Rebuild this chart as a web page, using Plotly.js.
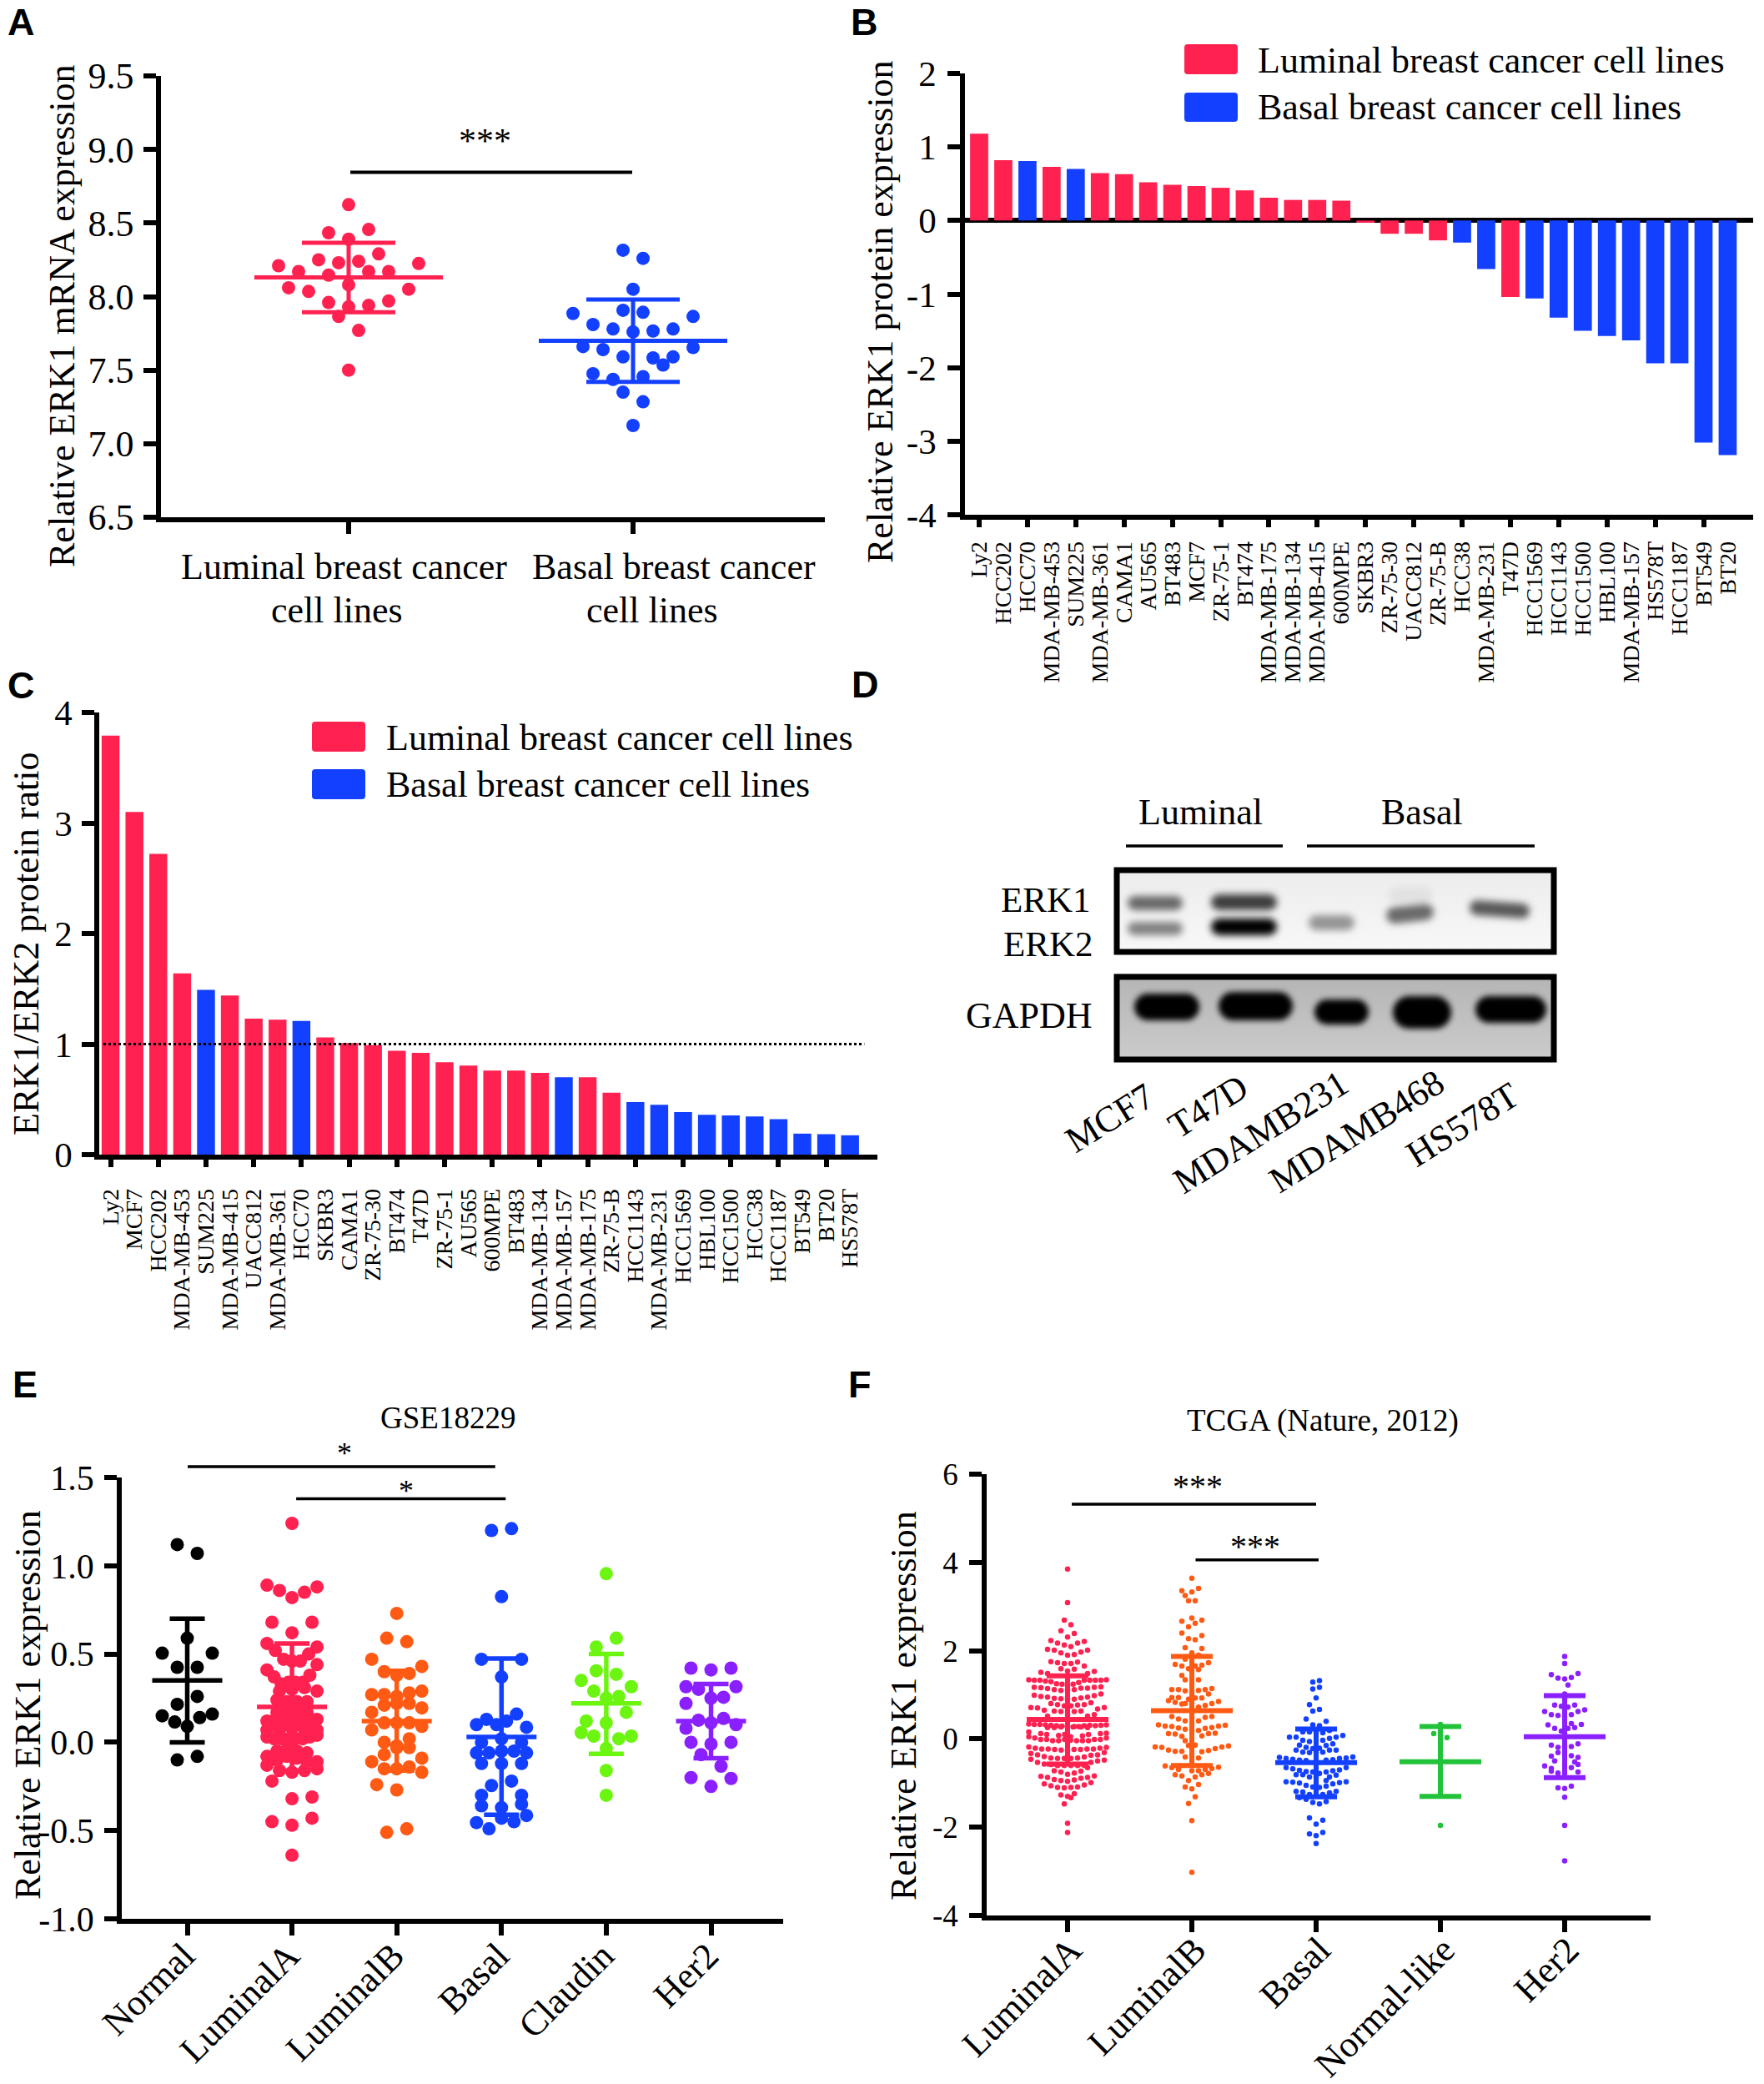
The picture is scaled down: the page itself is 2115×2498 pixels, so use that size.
<!DOCTYPE html>
<html><head><meta charset="utf-8">
<script src="https://cdn.plot.ly/plotly-3.0.1.min.js"></script>
<style>html,body{margin:0;padding:0;background:#fff}</style></head>
<body><div id="chart" style="width:2115px;height:2498px"></div>
<script>
// ---------- DATA ----------
const legendLabels = ['Luminal breast cancer cell lines','Basal breast cancer cell lines'];

// Panel A: rows of a swarm, left to right (null = empty slot in the row)
const A_categories = ['Luminal breast cancer\ncell lines','Basal breast cancer\ncell lines'];
const A_yticks = [6.5,7,7.5,8,8.5,9,9.5];
const A_luminal = [[8.625],[8.434,8.39,8.456],[8.21,8.17,8.25,8.23,8.24,8.29,null,8.225],
  [8.06,8.035,8.146,8.08,8.17,8.17,8.05],[null,7.96,7.93,7.94,7.97],[7.865,null],[null,7.77],[7.5]];
const A_basal = [[8.315,8.26],[8.05],[7.907,7.893],[7.885,7.81,7.78,7.76,7.766,7.78,7.865],
  [7.66,7.64,7.59,null,7.535,null],[null,null,null,null,7.583,7.59,7.654],
  [7.476,7.437,null,null,null],[null,7.456],[7.35,null],[null,7.285],[7.124]];
const A_mean = [8.13,7.70], A_upper = [8.366,7.98], A_lower = [7.893,7.42];
const A_sigX = [0.006,0.997], A_sigY = [8.845,8.845];

// Panel B
const B_lines = ['Ly2','HCC202','HCC70','MDA-MB-453','SUM225','MDA-MB-361','CAMA1','AU565','BT483','MCF7','ZR-75-1','BT474','MDA-MB-175','MDA-MB-134','MDA-MB-415','600MPE','SKBR3','ZR-75-30','UACC812','ZR-75-B','HCC38','MDA-MB-231','T47D','HCC1569','HCC1143','HCC1500','HBL100','MDA-MB-157','HS578T','HCC1187','BT549','BT20'];
const B_values = [1.18,0.82,0.81,0.73,0.70,0.645,0.63,0.52,0.485,0.47,0.445,0.41,0.31,0.28,0.28,0.27,-0.03,-0.18,-0.18,-0.27,-0.30,-0.66,-1.04,-1.06,-1.32,-1.50,-1.57,-1.63,-1.94,-1.94,-3.02,-3.19];
const B_basal = ['HCC70','SUM225','HCC38','MDA-MB-231','HCC1569','HCC1143','HCC1500','HBL100','MDA-MB-157','HS578T','HCC1187','BT549','BT20'];
const B_yticks = [-4,-3,-2,-1,0,1,2];

// Panel C
const C_lines = ['Ly2','MCF7','HCC202','MDA-MB-453','SUM225','MDA-MB-415','UACC812','MDA-MB-361','HCC70','SKBR3','CAMA1','ZR-75-30','BT474','T47D','ZR-75-1','AU565','600MPE','BT483','MDA-MB-134','MDA-MB-157','MDA-MB-175','ZR-75-B','HCC1143','MDA-MB-231','HCC1569','HBL100','HCC1500','HCC38','HCC1187','BT549','BT20','HS578T'];
const C_values = [3.79,3.10,2.72,1.64,1.49,1.44,1.23,1.22,1.21,1.06,1.01,0.99,0.94,0.92,0.835,0.805,0.76,0.76,0.74,0.70,0.70,0.56,0.475,0.45,0.385,0.36,0.355,0.345,0.32,0.19,0.185,0.175];
const C_basal = ['SUM225','HCC70','MDA-MB-157','HCC1143','MDA-MB-231','HCC1569','HBL100','HCC1500','HCC38','HCC1187','BT549','BT20','HS578T'];
const C_yticks = [0,1,2,3,4];
const C_refX = [-0.3,31.6], C_refY = [1,1];

// Panel E
const E_categories = ['Normal','LuminalA','LuminalB','Basal','Claudin','Her2'];
const E_yticks = [-1,-0.5,0,0.5,1,1.5];
const E_mean = [0.35,0.20,0.12,0.03,0.22,0.12];
const E_upper = [0.70,0.56,0.405,0.475,0.50,0.33];
const E_lower = [0,-0.16,-0.16,-0.41,-0.065,-0.09];
const E_normal = [[1.12,1.07],[0.59],[0.505,null,null,null,0.505],[0.425,0.425],[null,0.26],[0.215,null],
  [0.15,0.115,0.09,0.14,0.16],[-0.10,-0.08]];
const E_luminalA = [[1.24],[0.89,0.86,0.82,0.85,0.88],[0.68,0.62,0.68],[0.56,0.52,0.47,0.46,0.46,0.50,0.54],
  [0.41,0.37,0.33,0.34,0.34,0.34,0.38,0.44],[null,0.29,0.30,0.31,0.29],[null,0.24,0.23,0.23,0.23,null],
  [null,0.17,0.18,0.18,0.17,null],[0.12,0.12,0.12,0.12,0.10,0.12,0.12,0.12,0.13],[0.07,0.07,0.08,0.07,0.07],
  [0.03,0.02,0.02,0.02,0.02,0.02,0.03,0.04],[null,-0.05,-0.04,-0.05,-0.06,null],[-0.08,-0.10,-0.08,-0.09,-0.11,-0.11],
  [-0.13,-0.16,-0.17,-0.16,-0.15],[-0.22,null,null],[null,-0.32,-0.31],[-0.45,-0.47,-0.43],[-0.64]];
const E_luminalB = [[0.73],[0.59,0.57],[0.47,0.40,0.38,0.39,0.43],[0.27,0.27,0.26,0.28,0.29],[0.17,0.21,0.22,0.22,0.195],
  [0.07,0.11,0.11,0.11,0.09],[null,0,-0.02,0.02,null],[-0.11,-0.07,-0.03,-0.03,-0.09],[null,-0.15,-0.15,-0.14,-0.17],
  [-0.24,-0.27,null],[-0.51,-0.49]];
const E_basal = [[1.20,1.21],[0.825],[0.47,null,0.47],[0.37],[0.10,0.13,0.10,0.12,0.16,0.085],[0,0.02,0],
  [-0.06,-0.06,-0.05,-0.05,-0.06],[-0.12,-0.12,-0.12],[-0.245,-0.22],[-0.30,null,-0.30],[-0.36,-0.37,-0.35],
  [-0.455,-0.49,-0.43,-0.45,-0.415]];
const E_claudin = [[0.955],[0.54,0.59],[0.405,0.385],[0.35,0.29,0.25,0.26,0.315],[0.12,0.11,0.17],
  [0.055,0.035,null,0.02,0.035],[-0.035],[-0.16],[-0.30]];
const E_her2 = [[0.42,0.41,0.42],[0.315,0.30,0.25,0.255,0.315],[0.22,null,null,null,null],[0.08,0.125,0.11,0.135,0.10],
  [0,-0.01,0],[-0.07,-0.135],[-0.2,-0.25,-0.205]];
const E_sig1X = [0.004,2.94], E_sig1Y = [1.562,1.562];
const E_sig2X = [1.04,3.04], E_sig2Y = [1.379,1.379];

// Panel F
const F_categories = ['LuminalA','LuminalB','Basal','Normal-like','Her2'];
const F_yticks = [-4,-2,0,2,4,6];
const F_mean = [0.44,0.64,-0.535,-0.515,0.05];
const F_upper = [1.43,1.87,0.225,0.28,0.98];
const F_lower = [-0.57,-0.60,-1.31,-1.30,-0.875];
const F_luminalA = [[3.85],[3.09],[2.69,2.59],[2.45,2.31,2.39],[2.23,2.17,2.13,2.09,2.17,2.21],
  [2.03,2.01,1.95,1.90,1.91,1.97,2.01],[1.75,1.73,1.71,1.71,1.74,1.65],[1.51,1.48,null,1.59,1.54,1.58,null,1.48,1.53],
  [1.34,1.33,1.33,1.31,1.30,1.25,1.24,1.20,1.24,1.28,1.33,1.33,1.33,1.33,1.34],
  [1.17,1.16,1.14,1.12,1.10,1.12,1.12,1.15,1.15,1.17,1.18],
  [0.99,0.96,0.95,0.92,0.91,0.90,0.90,0.93,0.95,0.98,1.02],
  [0.71,0.70,0.65,0.80,0.78,0.75,0.75,0.77,0.78,0.82,0.68,0.71],
  [null,0.52,0.63,0.62,0.55,0.62,0.63,0.52,0.55],
  [0.34,0.33,0.33,0.32,0.31,0.30,0.29,0.28,0.27,0.28,0.30,0.31,0.30,0.31,0.32],
  [0.26,0.26,0.27,0.28,0.28,0.27,0.26],
  [0.16,null,0.12,0.10,null,0.08,0.10,0.05,null,0.07,0.10,null,0.12,0.13],
  [0.05,0.02,-0.01,-0.01,-0.04,-0.04,-0.01,-0.03,-0.04,-0.04,-0.04,-0.01,-0.01,0.02],
  [-0.18,-0.21,-0.23,-0.23,-0.24,-0.25,-0.26,-0.24,-0.24,-0.23,-0.23,-0.21,-0.19],
  [-0.33,-0.36,-0.40,-0.43,-0.44,-0.44,-0.44,-0.43,-0.41,-0.37,-0.36,-0.31],
  [-0.46,-0.53,-0.57,-0.58,-0.6,-0.6,-0.6,-0.6,-0.6,-0.53,-0.50,-0.48],
  [null,-0.72,-0.75,-0.80,-0.77,-0.73,-0.65],
  [-0.85,-0.87,-0.92,-0.94,-0.96,-0.93,-0.89,-0.87,-0.84],
  [-1.02,-1.06,-1.10,-1.11,-1.10,-1.09,-1.04,-0.99],
  [-1.27,-1.30,-1.24],[null,-1.33],[-1.47,null],[-1.91],[-2.12]];
const F_luminalB = [[3.64],[3.25,3.33,3.41],[3.36,null,null,null],[3.13,3.13],[2.74],[2.67,2.54,2.62,2.69],[2.40,2.27,2.25,2.34],
  [2.07,1.95,null],[null,null,null,2.05],[1.81,null,1.90],[1.69,1.65,1.59,1.65,1.67,1.73],[null,null,1.57],[1.44,null,null,null],
  [1.34,null,1.34],[1.12,1.12,1.09,1.05,1.10,1.12,1.14],[0.87,0.83,0.79,0.90,0.93,0.93,1.02,null],
  [null,0.94,0.94,0.8,0.8,0.72,0.76,0.80,0.85],[0.51,0.45,0.41,0.48,0.41,0.49,0.51],
  [0.32,0.29,0.28,0.25,0.22,0.2,0.19,0.24,0.26,0.29,0.31],[0.12,0.11,0.06,-0.15,-0.14,0.07,0.12,0.13],[-0.04,null,null],
  [-0.18,-0.19,-0.25,-0.28,-0.28,null,null,-0.29,-0.26,-0.22,-0.18,-0.16],[-0.41,null,-0.43],
  [-0.61,-0.65,-0.69,null,-0.72,-0.72,-0.69,-0.67,-0.64],[-0.81,-0.84,-0.94,-0.86,-0.81,-0.78],
  [-1.09,-1.13,-1.03],[null,-1.31],[-1.46,null],[-1.85],[-3.02]];
const F_basal = [[1.29,1.32],[1.13,1.17],[0.93],[0.78,null,null],[0.63,0.67],[0.45,null,null,0.40],[0.32,0.30],
  [0.16,0.16,0.15,0.14,0.19],[0.04,0.04,-0.03,-0.06,null,-0.03,0.01,0.04,0.08],[-0.14,-0.19,-0.22,-0.21,-0.15,-0.11],
  [-0.25,-0.30,-0.31,-0.3,-0.30,-0.25,-0.25],[-0.42,-0.44,-0.46,-0.48,-0.49,null,null,-0.48,-0.47,-0.44,-0.43,-0.41],
  [-0.65,-0.68,-0.71,-0.74,-0.75,-0.78,-0.75,-0.72,-0.70,-0.65],[-0.81,-0.81,-0.86,-0.86,null,-0.86,-0.82],
  [-0.97,-0.98,-1.0,-1.05,-1.09,-1.10,-1.07,-1.02,-0.99,-0.97],[null,null,null,-0.94],
  [-1.19,-1.20,-1.26,-1.28,-1.26,-1.22,-1.19],[-1.33,-1.37,-1.44,-1.47,-1.42,-1.29],
  [-1.79,null,-1.84],[-1.93],[-2.15,-2.19,-2.12],[-2.37]];
const F_normal = [[0.33],[0.12,null,0.03],[-1.96]];
const F_her2 = [[1.87],[1.71],[1.46,1.38,1.36,1.39,1.48],[null,1.22],[1.02],[0.90],[0.77,0.74,0.72,0.77],
  [0.62,0.55,0.53,0.50,0.55,0.62,0.66],[null,null,0.35],[0.32,0.24,0.18,0.24,0.26,0.33],[0.08],[-0.14,-0.19,-0.17,-0.17,-0.11],
  [-0.39,-0.31,null,-0.38,-0.42],[-0.50,null,null,-0.52],[-0.61,-0.67,null,null,-0.65,-0.58,null],[-0.73,-0.77,null,null,-0.75],
  [-1.11,-1.12,-1.07],[-1.32],[-1.96],[-2.76]];
const F_sig1X = [0.034,2.0], F_sig1Y = [5.32,5.32];
const F_sig2X = [1.03,2.02], F_sig2Y = [4.06,4.06];

// Panel D labels
const D_lines = ['MCF7','T47D','MDAMB231','MDAMB468','HS578T'];

// ---------- STYLE ----------
const W=2115,H=2498, SERIF='"Liberation Serif","Times New Roman",serif', SANS='"Liberation Sans",Arial,sans-serif';
const RED='#FF2150',BLUE='#1340FF',ORANGE='#FF5A14',LIME='#6CF510',GREEN='#22C23A',PURPLE='#8A20FF',BLACK='#000000';
const LW=5.5;
const X=p=>p/W, Y=p=>1-p/H;
const fmt1=v=>v.toFixed(1), fmt0=v=>String(v);

function swarm(rows,center,pitch,step,maxHalf){
  const x=[],y=[];
  rows.forEach(r=>{const n=r.length;let s=step;if(n>1&&(n-1)*s/2>maxHalf)s=2*maxHalf/(n-1);
    r.forEach((v,i)=>{if(v===null)return;x.push(center+(i-(n-1)/2)*s/pitch);y.push(v);});});
  return {x,y};
}
const traces=[];
function addSwarm(rows,c,pitch,step,maxHalf,color,size,ax,ay){
  const s=swarm(rows,c,pitch,step,maxHalf);
  traces.push({type:'scatter',mode:'markers',x:s.x,y:s.y,xaxis:ax,yaxis:ay,marker:{color,size,line:{width:0}},hoverinfo:'y'});
}
function addStat(c,mean,up,lo,color,halfW,cap,thick,ax,ay){
  traces.push({type:'scatter',mode:'markers',x:[c],y:[mean],xaxis:ax,yaxis:ay,cliponaxis:false,hoverinfo:'y',
    marker:{symbol:'line-ew',size:halfW*2/1.4,color,line:{color,width:thick}},
    error_y:{type:'data',symmetric:false,array:[up-mean],arrayminus:[mean-lo],width:cap,thickness:thick,color}});
}
function addLine(x,y,ax,ay,width,dash){
  traces.push({type:'scatter',mode:'lines',x,y,xaxis:ax,yaxis:ay,cliponaxis:false,hoverinfo:'skip',line:{color:BLACK,width,dash:dash||'solid'}});
}
function addBars(names,vals,basal,ax,ay){
  traces.push({type:'bar',x:names.map((_,i)=>i),y:vals,xaxis:ax,yaxis:ay,width:0.75,hovertext:names,
    marker:{color:names.map(n=>basal.includes(n)?BLUE:RED),line:{width:0}}});
}
function yAxis(xAnchor,top,bottom,range,ticks,f,standoff,size,extra){
  return Object.assign({domain:[Y(bottom),Y(top)],range,anchor:xAnchor,tickmode:'array',tickvals:ticks,ticktext:ticks.map(f),
    showgrid:false,zeroline:false,showline:true,linecolor:BLACK,linewidth:LW,ticks:'outside',ticklen:15,tickwidth:LW,tickcolor:BLACK,
    ticklabelstandoff:standoff,tickfont:{family:SERIF,size,color:BLACK}},extra||{});
}
function xAxis(yAnchor,left,right,pos0,pitch,extra){
  return Object.assign({domain:[X(left),X(right)],range:[(left-pos0)/pitch,(right-pos0)/pitch],anchor:yAnchor,
    showgrid:false,zeroline:false,showline:true,linecolor:BLACK,linewidth:LW,ticks:'outside',ticklen:14,tickwidth:LW,tickcolor:BLACK,
    tickfont:{family:SERIF,size:42,color:BLACK}},extra||{});
}
const idx=a=>a.map((_,i)=>i);

// Panel A
const pA=341;
addSwarm(A_luminal,0,pA,24,90,RED,16,'x','y');
addSwarm(A_basal,1,pA,24,90,BLUE,16,'x','y');
[RED,BLUE].forEach((c,i)=>addStat(i,A_mean[i],A_upper[i],A_lower[i],c,113,56,5,'x','y'));
addLine(A_sigX,A_sigY,'x','y',4);
// Panel B
const pB=28.95;
addBars(B_lines,B_values,B_basal,'x2','y2');
const oddB=idx(B_lines).filter(i=>i%2===0);
traces.push({type:'scatter',mode:'markers',x:oddB,y:oddB.map(()=>0),xaxis:'x6',yaxis:'y2',marker:{opacity:0},hoverinfo:'skip'});
// Panel C
const pC=28.6;
addBars(C_lines,C_values,C_basal,'x3','y3');
addLine(C_refX,C_refY,'x3','y3',3,'dot');
const oddC=idx(C_lines).filter(i=>i%2===0);
traces.push({type:'scatter',mode:'markers',x:oddC,y:oddC.map(()=>0),xaxis:'x7',yaxis:'y3',marker:{opacity:0},hoverinfo:'skip'});
// Panel E
const pE=125.6;
[E_normal,E_luminalA,E_luminalB,E_basal,E_claudin,E_her2].forEach((r,i)=>addSwarm(r,i,pE,24,30,[BLACK,RED,ORANGE,BLUE,LIME,PURPLE][i],16,'x4','y4'));
[BLACK,RED,ORANGE,BLUE,LIME,PURPLE].forEach((c,i)=>addStat(i,E_mean[i],E_upper[i],E_lower[i],c,42,21,5.5,'x4','y4'));
addLine(E_sig2X,E_sig2Y,'x4','y4',3.5);
// Panel F
const pF=149;
[F_luminalA,F_luminalB,F_basal,F_normal,F_her2].forEach((r,i)=>addSwarm(r,i,pF,8,46.5,[RED,ORANGE,BLUE,GREEN,PURPLE][i],6.5,'x5','y5'));
[RED,ORANGE,BLUE,GREEN,PURPLE].forEach((c,i)=>addStat(i,F_mean[i],F_upper[i],F_lower[i],c,49,25,6,'x5','y5'));
addLine(F_sig1X,F_sig1Y,'x5','y5',3.5); addLine(F_sig2X,F_sig2Y,'x5','y5',3.5);

// ---------- annotations ----------
const ann=[];
function T(text,x,y,size,o){ann.push(Object.assign({text,xref:'paper',yref:'paper',x:X(x),y:Y(y),xanchor:'center',yanchor:'middle',showarrow:false,
  font:{family:SERIF,size,color:BLACK}},o||{}));}
[['A',25,27],['B',1036,27],['C',25,821],['D',1037,820],['E',30,1659],['F',1031,1659]].forEach(a=>
  T('<b>'+a[0]+'</b>',a[1],a[2],45,{font:{family:SANS,size:45,color:BLACK}}));
T('Relative ERK1 mRNA expression',75,379,44,{textangle:-90});
T('Relative ERK1 protein expression',1055,374,44,{textangle:-90});
T('ERK1/ERK2 protein ratio',31,1131,44,{textangle:-90});
T('Relative ERK1 expression',33,2044,44,{textangle:-90});
T('Relative ERK1 expression',1083,2045,44,{textangle:-90});
// A category labels
const aL=A_categories.map(s=>s.split('\n'));
T(aL[0][0],412,679,44);T(aL[0][1],404,731,44);T(aL[1][0],808,679,44);T(aL[1][1],782,731,44);
T('***',581,169,42);T('*',413,1742,36);T('*',487,1787,36);T('***',1436,1781,40);T('***',1505,1853,40);
// titles
T('GSE18229',537,1699,37);T('TCGA (Nature, 2012)',1586,1703,37);
// legends
T(legendLabels[0],1506,73,44,{xanchor:'left'});T(legendLabels[1],1506,128,44,{xanchor:'left'});
T(legendLabels[0],461,884,44,{xanchor:'left'});T(legendLabels[1],461,940,44,{xanchor:'left'});
// D
T('Luminal',1439,973,44);T('Basal',1705,973,44);
T('ERK1',1310,1078,43,{xanchor:'right'});T('ERK2',1313,1131,43,{xanchor:'right'});T('GAPDH',1312,1217,44,{xanchor:'right'});
[[1330,1340],[1448,1326],[1511,1357],[1626,1356],[1753,1348]].forEach((p,i)=>T(D_lines[i],p[0],p[1],44,{textangle:-32}));

// ---------- shapes ----------
function rect(x0,y0,x1,y1,fill,line){return {type:'rect',xref:'paper',yref:'paper',x0:X(x0),x1:X(x1),y0:Y(y1),y1:Y(y0),fillcolor:fill||'rgba(0,0,0,0)',line:line||{width:0}};}
function swatch(x0,y0,x1,y1,fill){const r=4,px=(a,b)=>X(a)+','+Y(b);
  return {type:'path',xref:'paper',yref:'paper',fillcolor:fill,line:{width:0},
    path:`M${px(x0+r,y0)} L${px(x1-r,y0)} Q${px(x1,y0)} ${px(x1,y0+r)} L${px(x1,y1-r)} Q${px(x1,y1)} ${px(x1-r,y1)} L${px(x0+r,y1)} Q${px(x0,y1)} ${px(x0,y1-r)} L${px(x0,y0+r)} Q${px(x0,y0)} ${px(x0+r,y0)} Z`};}
function seg(x0,x1,y){return {type:'line',xref:'paper',yref:'paper',x0:X(x0),x1:X(x1),y0:Y(y),y1:Y(y),line:{color:BLACK,width:3.5}};}
// E: the upper significance line lies above the axis range, so it is placed on the x axis scale and a paper y worked out from the value
const E_top=1771,E_bottom=2300;
const eSigPaper=Y(E_top+(1.5-E_sig1Y[0])/2.5*(E_bottom-E_top));
const shapes=[swatch(1420,53,1484,89,RED),swatch(1420,111,1484,146,BLUE),swatch(374,865,438,901,RED),swatch(374,922,438,958,BLUE),
  seg(1350,1538,1014),seg(1567,1840,1014),
  {type:'line',xref:'x4',yref:'paper',x0:E_sig1X[0],x1:E_sig1X[1],y0:eSigPaper,y1:eSigPaper,line:{color:BLACK,width:3.5}},
  rect(1339,1043,1863,1141,null,{color:BLACK,width:7}),rect(1339,1171,1863,1270,null,{color:BLACK,width:7})];

// ---------- western blot pictures ----------
function band(x,y,w,h,c,rot){return `<rect x="${x}" y="${y}" width="${w}" height="${h}" rx="${h/2}" fill="${c}" ${rot?`transform="rotate(${rot} ${x+w/2} ${y+h/2})"`:''}/>`;}
function blotSvg(w,h,bg0,bg1,bands,blur){
  return 'data:image/svg+xml;charset=utf-8,'+encodeURIComponent(`<svg xmlns="http://www.w3.org/2000/svg" width="${w}" height="${h}" viewBox="0 0 ${w} ${h}">
  <defs><linearGradient id="g" x1="0" y1="0" x2="0" y2="1"><stop offset="0" stop-color="${bg0}"/><stop offset="1" stop-color="${bg1}"/></linearGradient>
  <filter id="b" x="-30%" y="-80%" width="160%" height="260%"><feGaussianBlur stdDeviation="${blur}"/></filter></defs>
  <rect width="${w}" height="${h}" fill="url(#g)"/><g filter="url(#b)">${bands}</g></svg>`);
}
// coordinates relative to the blot box, which starts at (1336,1039) / (1336,1167)
const topBands=[band(16,35,66,17,'#686868'),band(16,66,66,16,'#828282'),band(116,33,79,19,'#3c3c3c'),band(116,62,79,20,'#000000'),
  band(233,58,55,18,'#949494'),band(326,46,57,20,'#6a6a6a',-6),band(328,24,54,20,'#e2e2e2'),band(426,42,72,18,'#585858',4)].join('');
const botBands=[band(24,24,78,32,'#000000'),band(125,22,89,34,'#000000'),band(240,31,65,30,'#000000'),band(334,27,70,39,'#000000'),band(433,27,85,32,'#000000')].join('');
const images=[
 {source:blotSvg(530,105,'#ececec','#f8f8f8',topBands,4),xref:'paper',yref:'paper',x:X(1336),y:Y(1039),sizex:530/W,sizey:105/H,xanchor:'left',yanchor:'top',sizing:'stretch',layer:'below'},
 {source:blotSvg(530,106,'#b4b4b4','#cccccc',botBands,3.5),xref:'paper',yref:'paper',x:X(1336),y:Y(1167),sizex:530/W,sizey:106/H,xanchor:'left',yanchor:'top',sizing:'stretch',layer:'below'}
];

// ---------- layout ----------
const layout={width:W,height:H,margin:{l:0,r:0,t:0,b:0,pad:0},paper_bgcolor:'#fff',plot_bgcolor:'rgba(0,0,0,0)',showlegend:false,hovermode:'closest',
  annotations:ann,shapes,images,
  xaxis: xAxis('y',193,989,418,pA,{tickmode:'array',tickvals:[0,1],ticktext:['','']}),
  yaxis: yAxis('x',91,620,[6.5,9.5],A_yticks,fmt1,3,44),
  xaxis2:xAxis('y2',1157,2102,1174,pB,{tickmode:'array',tickvals:idx(B_lines),ticktext:B_lines,ticks:'',tickangle:-90,ticklabelstandoff:15,tickfont:{family:SERIF,size:28,color:BLACK}}),
  yaxis2:yAxis('x2',88,617,[-4,2],B_yticks,fmt0,5,43,{zeroline:true,zerolinecolor:BLACK,zerolinewidth:LW}),
  xaxis6:xAxis('y2',1157,2102,1174,pB,{overlaying:'x2',showline:false,tickmode:'array',tickvals:oddB,ticktext:oddB.map(()=>''),side:'bottom'}),
  xaxis3:xAxis('y3',119,1052,132.6,pC,{tickmode:'array',tickvals:idx(C_lines),ticktext:C_lines,ticks:'',tickangle:-90,ticklabelstandoff:24,tickfont:{family:SERIF,size:28,color:BLACK}}),
  yaxis3:yAxis('x3',854,1384,[0,4],C_yticks,fmt0,3,43),
  xaxis7:xAxis('y3',119,1052,132.6,pC,{overlaying:'x3',showline:false,tickmode:'array',tickvals:oddC,ticktext:oddC.map(()=>''),side:'bottom'}),
  xaxis4:xAxis('y4',146,939,224.5,pE,{tickmode:'array',tickvals:idx(E_categories),ticktext:E_categories,tickangle:-45,ticklabelstandoff:-19,ticklabelshift:-4,tickfont:{family:SERIF,size:44,color:BLACK}}),
  yaxis4:yAxis('x4',E_top,E_bottom,[-1,1.5],E_yticks,fmt1,4,42),
  xaxis5:xAxis('y5',1183,1979,1280,pF,{tickmode:'array',tickvals:idx(F_categories),ticktext:F_categories,tickangle:-45,ticklabelstandoff:-22,ticklabelshift:4,tickfont:{family:SERIF,size:44,color:BLACK}}),
  yaxis5:yAxis('x5',1767,2296,[-4,6],F_yticks,fmt0,6,37)
};
Plotly.newPlot('chart',traces,layout,{displayModeBar:false,responsive:false});
</script></body></html>
